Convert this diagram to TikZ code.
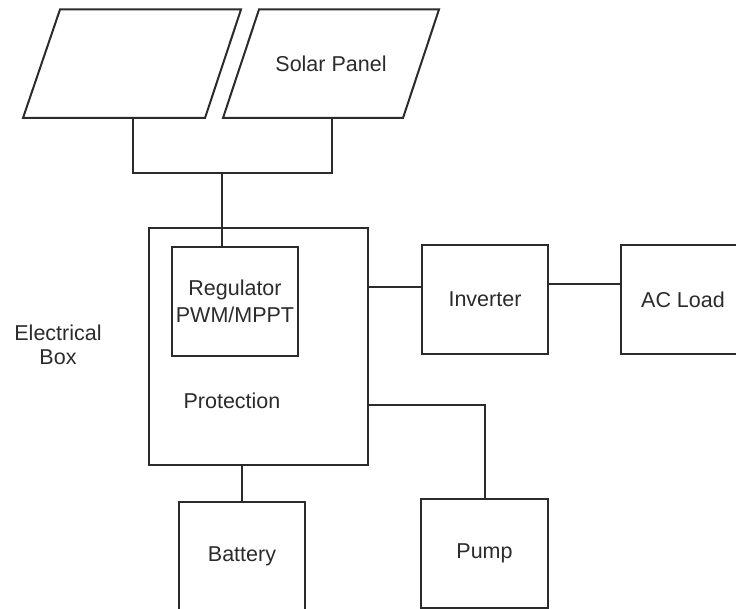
\documentclass[tikz,border=0pt]{standalone}
\usepackage{fontspec}
\setmainfont{Liberation Sans}
\usepackage{tikz}
\usetikzlibrary{
    calc,
    positioning
}
\definecolor{ink}{HTML}{2B2B2B}
\tikzset{
    blockbox/.style={draw=ink,line width=2pt,rectangle,inner sep=0pt,align=center},
    wire/.style={draw=ink,line width=2pt}
}

\begin{document}
\begin{tikzpicture}[x=1pt,y=-1pt,font=\fontsize{21.5}{24}\selectfont,text=ink]
\useasboundingbox (0,0) rectangle (736,609);
\clip (0,0) rectangle (736,609);
%\draw [help lines,step=20](0,0) grid (736,609);
% solar panels
\coordinate (A1) at (60,9.5);
\coordinate (A2) at (241,9.5);
\coordinate (A3) at (205,118);
\coordinate (A4) at (23,118);
\coordinate (B1) at (259,9.5);
\coordinate (B2) at (439,9.5);
\coordinate (B3) at (403,118);
\coordinate (B4) at (223,118);
\draw [wire] (A1) -- (A2) -- (A3) -- (A4) -- cycle;
\draw [wire] (B1) -- (B2) -- (B3) -- (B4) -- cycle;
\node (solar) at (331,64) {Solar Panel};
% blocks
\node [blockbox,minimum width=219pt,minimum height=237pt] (ebox) at (258.5,346.5) {};
\node [blockbox,minimum width=126pt,minimum height=109pt] (reg) at (235,301.5) {Regulator\\[3pt]PWM/MPPT};
\node (prot) at (232,401) {Protection};
\node [align=center] (elabel) at (58,345) {Electrical\\Box};
\node [blockbox,minimum width=126pt,minimum height=109pt] (inv) at (485,299.5) {Inverter};
\node [blockbox,minimum width=124pt,minimum height=109pt] (acload) at (683,299.5) {AC Load};
\node [blockbox,minimum width=126pt,minimum height=109pt] (bat) at (242,556) {Battery};
\node [blockbox,minimum width=127pt,minimum height=109pt] (pump) at (484.5,553.5) {Pump};
% wiring
\coordinate (pA) at (133,118);
\coordinate (pB) at (332,118);
\coordinate (jc) at (222,173);
\draw [wire] (pA) |- (jc) -| (pB);
\draw [wire] (jc) -- (jc |- reg.north);
\draw [wire] ([yshift=12.5pt]inv.west -| ebox.east) -- ([yshift=12.5pt]inv.west);
\draw [wire] ([yshift=15pt]inv.east) -- ([yshift=15pt]acload.west);
\draw [wire] ([yshift=-58.5pt]ebox.east) -| (pump.north);
\draw [wire] (bat.north |- ebox.south) -- (bat.north);
\end{tikzpicture}
\end{document}
